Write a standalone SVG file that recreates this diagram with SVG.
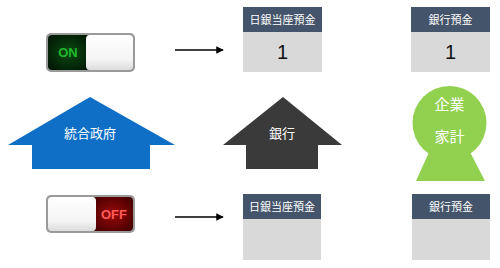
<svg xmlns="http://www.w3.org/2000/svg" width="500" height="268" viewBox="0 0 500 268">
<style>
.hdr{fill:#44546a}
.body{fill:#d9d9d9}
.ht{font-family:"Noto Sans CJK JP","Noto Sans CJK SC",sans-serif;font-size:11px;fill:#ffffff;text-anchor:middle}
.num{font-family:"Liberation Sans",Arial,sans-serif;font-size:20px;fill:#111111;text-anchor:middle}
.lbl{font-family:"Noto Sans CJK JP","Noto Sans CJK SC",sans-serif;font-size:13px;fill:#ffffff;text-anchor:middle}
.lblg{font-family:"Noto Sans CJK JP","Noto Sans CJK SC",sans-serif;font-size:15px;fill:#ffffff;text-anchor:middle}
.sw{font-family:"Liberation Sans",Arial,sans-serif;font-size:13px;font-weight:bold;text-anchor:middle}
.conn{stroke:#000000;stroke-width:1.5;fill:none}
</style>
<defs>
<marker id="ah" viewBox="0 0 10 10" refX="9" refY="5" markerWidth="5" markerHeight="5" orient="auto" markerUnits="strokeWidth">
<path d="M0,0 L10,5 L0,10 z" fill="#000000"/>
</marker>
<linearGradient id="white" x1="0" y1="0" x2="0" y2="1">
<stop offset="0" stop-color="#ffffff"/>
<stop offset="0.7" stop-color="#f4f4f4"/>
<stop offset="1" stop-color="#dcdcdc"/>
</linearGradient>
<radialGradient id="green" cx="0.5" cy="0.5" r="0.6">
<stop offset="0" stop-color="#0b4a12"/>
<stop offset="1" stop-color="#021a05"/>
</radialGradient>
<radialGradient id="red" cx="0.5" cy="0.5" r="0.6">
<stop offset="0" stop-color="#9a0a0a"/>
<stop offset="1" stop-color="#4a0000"/>
</radialGradient>
</defs>

<g id="switch-on">
<rect x="46" y="33" width="89" height="39" rx="5" fill="#9a9a9a"/>
<rect x="48" y="35" width="42" height="35" rx="4" fill="url(#green)"/>
<rect x="86" y="35" width="47" height="35" rx="4" fill="url(#white)"/>
<text class="sw" x="68" y="57" fill="#1fb82a">ON</text>
</g>

<g id="switch-off">
<rect x="46" y="195" width="89" height="38" rx="5" fill="#9a9a9a"/>
<rect x="92" y="197" width="41" height="34" rx="4" fill="url(#red)"/>
<rect x="48" y="197" width="48" height="34" rx="4" fill="url(#white)"/>
<text class="sw" x="114" y="219" fill="#ff5a5a">OFF</text>
</g>

<g id="boj-top">
<rect class="hdr" x="243" y="7" width="79" height="25"/>
<rect class="body" x="243" y="32" width="79" height="40"/>
<text class="ht" x="282.5" y="24">日銀当座預金</text>
<text class="num" x="282.5" y="59">1</text>
</g>

<g id="bank-top">
<rect class="hdr" x="411" y="7" width="79" height="25"/>
<rect class="body" x="411" y="32" width="79" height="40"/>
<text class="ht" x="450.5" y="24">銀行預金</text>
<text class="num" x="450.5" y="59">1</text>
</g>

<g id="boj-bottom">
<rect class="hdr" x="243" y="194" width="78" height="25"/>
<rect class="body" x="243" y="219" width="78" height="41"/>
<text class="ht" x="282" y="211">日銀当座預金</text>
</g>

<g id="bank-bottom">
<rect class="hdr" x="412" y="194" width="78" height="25"/>
<rect class="body" x="412" y="219" width="78" height="41"/>
<text class="ht" x="451" y="211">銀行預金</text>
</g>

<g id="gov">
<polygon points="90,97 175,145 150,145 150,169 32,169 32,145 8,145" fill="#0f6fc6"/>
<text class="lbl" x="90" y="138">統合政府</text>
</g>

<g id="bank">
<polygon points="283,97 342,145 318,145 318,169 246,169 246,145 223,145" fill="#3a3a3a"/>
<text class="lbl" x="282" y="138">銀行</text>
</g>

<g id="household">
<circle cx="449.5" cy="123" r="37" fill="#92d050"/>
<polygon points="430,150 469,150 485,181 416,181" fill="#92d050"/>
<text class="lblg" x="449.5" y="110">企業</text>
<text class="lblg" x="449.5" y="142">家計</text>
</g>

<g id="connectors">
<line class="conn" x1="175" y1="50" x2="223" y2="50" marker-end="url(#ah)"/>
<line class="conn" x1="175" y1="217" x2="223" y2="217" marker-end="url(#ah)"/>
</g>
</svg>
